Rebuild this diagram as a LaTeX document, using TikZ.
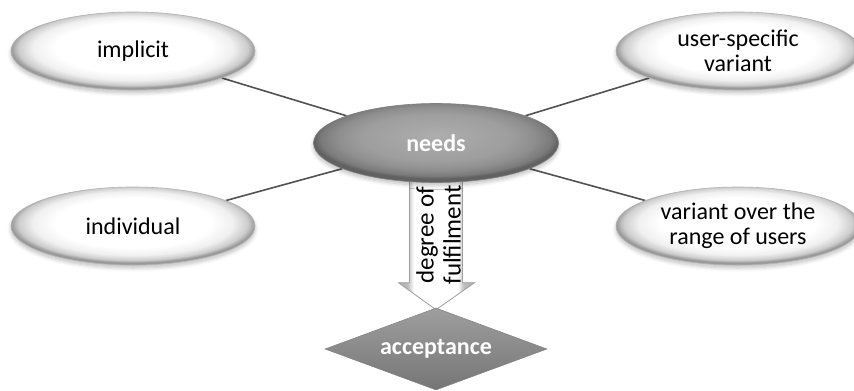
\documentclass[tikz,border=0pt]{standalone}
\usepackage{fontspec}
\setmainfont{Carlito}
\usetikzlibrary{shapes.geometric,shadows.blur,calc}

% soft white oval with a grey rim that darkens towards the bottom
\pgfdeclareradialshading{ovalwhite}{\pgfpoint{0bp}{3bp}}{%
  color(0bp)=(white); color(16bp)=(white); color(20.5bp)=(black!6);
  color(23.5bp)=(black!20); color(25bp)=(black!40); color(50bp)=(black!40)}
% grey oval with a lighter crown
\pgfdeclareradialshading{ovalgrey}{\pgfpoint{0bp}{5bp}}{%
  color(0bp)=(black!32); color(15bp)=(black!38); color(20bp)=(black!44);
  color(23.5bp)=(black!52); color(25bp)=(black!62); color(50bp)=(black!62)}
% block arrow: white core, grey flanks
\pgfdeclarehorizontalshading{arrowshade}{100bp}{%
  color(0bp)=(black!32); color(25bp)=(black!32); color(31bp)=(black!26);
  color(35bp)=(white); color(64bp)=(white); color(68bp)=(black!26);
  color(75bp)=(black!32); color(100bp)=(black!32)}

\pgfdeclarelayer{background}
\pgfsetlayers{background,main}

\tikzset{
  leaf/.style={ellipse, minimum width=122pt, minimum height=39pt, inner sep=0pt,
    shading=ovalwhite, draw=black!30, line width=0.3pt, align=center,
    font=\fontsize{12}{12.5}\selectfont, text=black,
    blur shadow={shadow xshift=0pt, shadow yshift=-1.5pt, shadow blur steps=6, shadow opacity=25}},
  hub/.style={ellipse, minimum width=122.5pt, minimum height=39.5pt, inner sep=0pt,
    shading=ovalgrey, draw=black!50, line width=0.3pt,
    font=\bfseries\fontsize{12}{12.5}\selectfont, text=white,
    blur shadow={shadow xshift=0pt, shadow yshift=-1.5pt, shadow blur steps=6, shadow opacity=25}},
  gate/.style={diamond, aspect=3, minimum width=111pt, minimum height=41pt, inner sep=0pt,
    top color=black!38, bottom color=black!54, draw=black!48, line width=0.3pt,
    font=\bfseries\fontsize{12}{12.5}\selectfont, text=white},
  link/.style={draw=black!68, line width=0.8pt},
  flow/.style={shading=arrowshade, draw=black!38, line width=0.4pt},
  flowtext/.style={font=\fontsize{12.5}{13.5}\selectfont, align=center, text=black}
}

\begin{document}
\begin{tikzpicture}[x=0.5pt, y=-0.5pt]
\useasboundingbox (0,0) rectangle (854,390);

% central concept and its four qualities
\node[hub]  (needs)    at (436,143) {needs};
\node[leaf] (implicit) at (133,51)  {implicit};
\node[leaf] (specific) at (738,51)  {user-specific\\variant};
\node[leaf] (individ)  at (133,226) {individual};
\node[leaf] (range)    at (738,226) {variant over the\\range of users};

% outcome
\node[gate] (accept) at (436,349) {acceptance};

% spokes
\begin{pgfonlayer}{background}
  \draw[link] (implicit) -- (needs);
  \draw[link] (specific) -- (needs);
  \draw[link] (individ)  -- (needs);
  \draw[link] (range)    -- (needs);

  % block arrow from needs down to acceptance
  \path[flow]
    ($(needs.south)+(-26.5,-6)$) -- ($(needs.south)+(26.5,-6)$)
    -- ($(accept.north)+(26.5,-25)$) -- ($(accept.north)+(38.5,-25)$)
    -- ($(accept.north)+(0,2)$)
    -- ($(accept.north)+(-37.5,-25)$) -- ($(accept.north)+(-26.5,-25)$) -- cycle;
\end{pgfonlayer}

\node[flowtext, rotate=90] (degree) at (438.5,235) {degree of\\fulfilment};
\end{tikzpicture}
\end{document}
